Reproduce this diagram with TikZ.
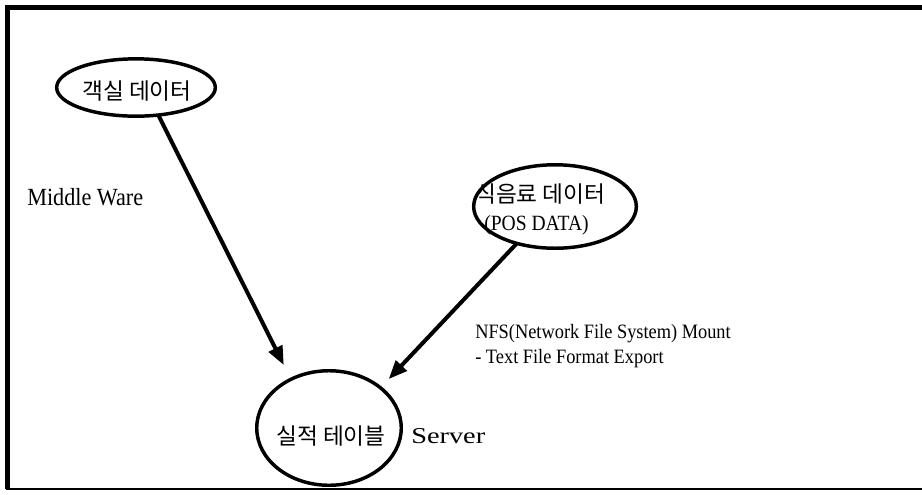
\documentclass[tikz,border=0pt]{standalone}
\usepackage{fontspec}
\setmainfont{Liberation Serif}
\newfontfamily\kor{Noto Sans CJK KR}
\newfontfamily\narrowserif[FakeStretch=0.9]{Liberation Serif}
\newfontfamily\wideserif[FakeStretch=1.25]{Liberation Serif}
\usetikzlibrary{arrows.meta,shapes.geometric}
\begin{document}
\begin{tikzpicture}[x=0.75pt,y=-0.75pt,
  oval/.style={ellipse, draw, line width=2.6pt, inner sep=0pt, outer sep=0pt},
  conn/.style={line width=3pt, -{Triangle[length=14pt,width=11pt]}},
  kortext/.style={font=\kor\fontsize{17}{19}\selectfont, inner sep=0pt},
  sertext/.style={inner sep=0pt}]
\useasboundingbox (0,0) rectangle (922,494);
\fill[white] (0,0) rectangle (922,494);
% frame (open on the right)
\draw[line width=3.75pt] (922,7.5) -- (7.5,7.5) -- (7.5,489);
\draw[line width=1.6pt] (5.6,489) -- (922,489);
% ellipses
\node[oval, minimum width=119pt, minimum height=43pt] (kaeksil) at (136,87.5) {};
\node[oval, minimum width=122pt, minimum height=62.6pt] (sikeum) at (555,206.5) {};
\node[oval, minimum width=108.4pt, minimum height=85.9pt] (silijeok) at (329,428) {};
% texts
\node[kortext] (kaeksiltxt) at (137,91) {객실 데이터};
\node[kortext, anchor=west] (sikeumtxt) at (475,194) {식음료 데이터};
\node[sertext, anchor=base west, font=\narrowserif\fontsize{16.3}{18}\selectfont] (posdata) at (484,230) {(POS DATA)};
\node[kortext] (silijeoktxt) at (331,436) {실적 테이블};
\node[sertext, anchor=base west, font=\wideserif\fontsize{17}{20}\selectfont] (server) at (411,443) {Server};
\node[sertext, anchor=base west, font=\narrowserif\fontsize{18.5}{22}\selectfont] (middleware) at (27,205) {Middle Ware};
\node[sertext, anchor=base west, font=\narrowserif\fontsize{15.3}{18}\selectfont] (nfs1) at (475,338) {NFS(Network File System) Mount};
\node[sertext, anchor=base west, font=\narrowserif\fontsize{15.3}{18}\selectfont] (nfs2) at (475,363) {- Text File Format Export};
% connectors
\draw[conn, shorten >=12pt] (kaeksil.-51) -- (silijeok.128.4);
\draw[conn, shorten >=9pt] (sikeum.-136.7) -- (silijeok.38.8);
\end{tikzpicture}
\end{document}
